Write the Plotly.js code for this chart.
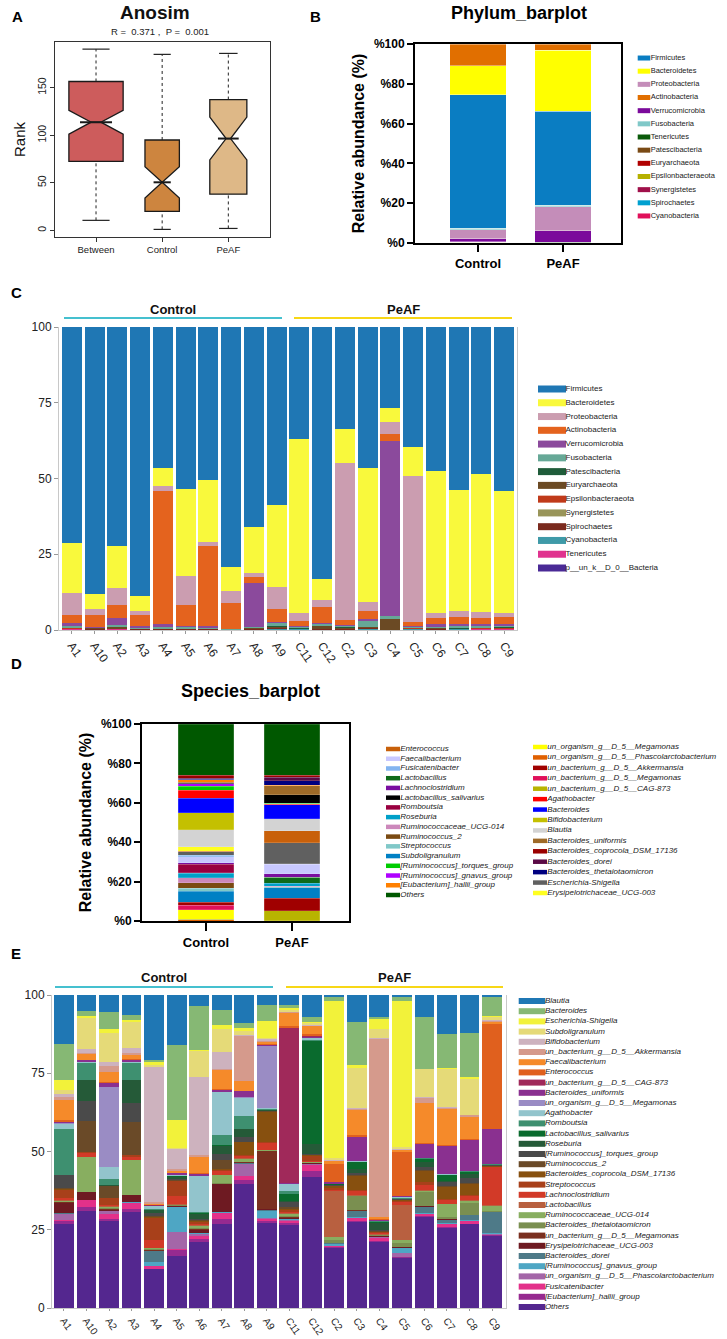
<!DOCTYPE html>
<html><head><meta charset="utf-8">
<script src="https://cdn.plot.ly/plotly-3.0.1.min.js"></script>
<style>html,body{margin:0;padding:0;background:#fff}#chart{width:727px;height:1339px}</style>
</head><body><div id="chart"></div>
<script>
// ---------------- DATA ----------------
// Panel A: ANOSIM box statistics
const anosimGroups = ['Between', 'Control', 'PeAF'];
const anosimQ1 = [72.6, 20, 38];
const anosimMedian = [113.7, 50.5, 96.5];
const anosimQ3 = [156.5, 95, 137.5];
const anosimLower = [10.5, 1, 2];
const anosimUpper = [190.5, 185, 186];
const anosimNotch = [12.5, 16.5, 22.5];
const anosimColors = ['#CD5C5C', '#CD853F', '#DEB887'];

// Panel B: phylum barplot (group means)
const bGroups = ['Control', 'PeAF'];
const bLegendNames = ['Firmicutes','Bacteroidetes','Proteobacteria','Actinobacteria','Verrucomicrobia','Fusobacteria','Tenericutes','Patescibacteria','Euryarchaeota','Epsilonbacteraeota','Synergistetes','Spirochaetes','Cyanobacteria'];
const bLegendColors = ['#0A7DC2','#FFFF00','#C48DB9','#E16F00','#7B0A9B','#80C8C8','#0A5A0A','#7A4A15','#B00000','#B5B000','#A0104A','#00A0D0','#E0105A'];
const bStack = ['Cyanobacteria','Spirochaetes','Synergistetes','Epsilonbacteraeota','Euryarchaeota','Patescibacteria','Tenericutes','Verrucomicrobia','Proteobacteria','Fusobacteria','Firmicutes','Bacteroidetes','Actinobacteria'];
const bControl = [0.05, 0.1, 0.05, 0.1, 0.2, 0.1, 0.1, 1.5, 4.5, 0.8, 67.0, 14.6, 10.9];
const bPeAF    = [0.02, 0.05, 0.03, 0.05, 0.05, 0.05, 0.05, 5.9, 11.9, 0.8, 47.3, 30.6, 3.2];

// Panel C: phylum per sample
const samples = ['A1','A10','A2','A3','A4','A5','A6','A7','A8','A9','C11','C12','C2','C3','C4','C5','C6','C7','C8','C9'];
const cPhyla = ['Firmicutes','Bacteroidetes','Proteobacteria','Actinobacteria','Verrucomicrobia','Fusobacteria','Patescibacteria','Euryarchaeota','Epsilonbacteraeota','Synergistetes','Spirochaetes','Cyanobacteria','Tenericutes','p__un_k__D_0__Bacteria'];
const cColors = ['#1F77B4','#F9F93C','#CB9DB0','#E4631E','#8B4A9C','#66A897','#1F5C3A','#6B4A24','#C03A1A','#99955A','#7A2A1E','#3F9AA8','#E0338F','#4A2A96'];
const cFirmicutes      = [71.6, 88.1, 72.2, 88.8, 46.6, 53.5, 50.4, 79.3, 66.1, 58.8, 37.0, 83.1, 33.6, 46.6, 26.7, 39.6, 47.6, 54.0, 48.7, 54.1];
const cBacteroidetes   = [16.5, 5.1, 14.0, 5.1, 6.0, 28.9, 20.7, 7.8, 15.2, 27.2, 57.5, 7.0, 11.3, 44.4, 4.7, 9.7, 46.9, 39.9, 45.5, 40.4];
const cProteobacteria  = [7.2, 1.8, 5.5, 1.4, 1.7, 9.6, 1.1, 4.1, 1.3, 7.4, 2.4, 2.4, 52.0, 3.1, 4.0, 48.3, 1.6, 1.9, 1.9, 1.4];
const cActinobacteria  = [2.5, 4.2, 4.4, 3.6, 44.0, 6.7, 26.7, 8.6, 1.8, 4.1, 1.8, 5.3, 1.7, 2.6, 2.2, 1.3, 1.9, 2.2, 2.2, 2.2];
const cVerrucomicrobia = [1.1, 0.1, 2.2, 0.5, 0.9, 0.5, 0.4, 0.05, 14.7, 0.3, 0.2, 0.3, 0.2, 0.55, 58.0, 0.1, 1.0, 0.7, 0.6, 0.6];
const cFusobacteria    = [0.6, 0.2, 0.8, 0.3, 0.5, 0.5, 0.4, 0.1, 0.3, 1.1, 0.5, 0.7, 0.5, 1.95, 0.8, 0.5, 0.3, 0.8, 0.4, 0.5];
const cPatescibacteria = [0.1, 0.05, 0.1, 0.1, 0.05, 0.05, 0.05, 0.02, 0.1, 0.2, 0.1, 0.1, 0.3, 0.2, 0.05, 0.05, 0.1, 0.2, 0.2, 0.2];
const cEuryarchaeota   = [0.1, 0.3, 0.4, 0.1, 0.1, 0.1, 0.1, 0.02, 0.3, 0.4, 0.1, 0.9, 0.3, 0.3, 3.5, 0.05, 0.4, 0.1, 0.1, 0.1];
const cEpsilon         = [0.1, 0.05, 0.05, 0.05, 0.05, 0.05, 0.05, 0.02, 0.05, 0.1, 0.05, 0.05, 0.05, 0.05, 0.02, 0.05, 0.05, 0.05, 0.05, 0.1];
const cSynergistetes   = [0.02, 0.02, 0.02, 0.02, 0.02, 0.02, 0.02, 0.01, 0.02, 0.05, 0.02, 0.02, 0.02, 0.02, 0.01, 0.02, 0.02, 0.02, 0.02, 0.02];
const cSpirochaetes    = [0.1, 0.05, 0.1, 0.05, 0.05, 0.05, 0.05, 0.02, 0.05, 0.4, 0.05, 0.05, 0.05, 0.3, 0.02, 0.05, 0.05, 0.05, 0.05, 0.05];
const cCyanobacteria   = [0.1, 0.05, 0.1, 0.05, 0.05, 0.05, 0.05, 0.02, 0.05, 0.1, 0.1, 0.05, 0.05, 0.1, 0.02, 0.3, 0.05, 0.05, 0.1, 0.1];
const cTenericutes     = [0.1, 0.05, 0.1, 0.05, 0.05, 0.05, 0.05, 0.02, 0.05, 0.05, 0.1, 0.05, 0.05, 0.05, 0.02, 0.05, 0.05, 0.1, 0.2, 0.2];
const cUnBacteria      = [0.1, 0.05, 0.1, 0.05, 0.05, 0.05, 0.05, 0.02, 0.05, 0.05, 0.05, 0.05, 0.05, 0.05, 0.02, 0.05, 0.05, 0.05, 0.1, 0.1];
const cValues = [cFirmicutes, cBacteroidetes, cProteobacteria, cActinobacteria, cVerrucomicrobia, cFusobacteria, cPatescibacteria, cEuryarchaeota, cEpsilon, cSynergistetes, cSpirochaetes, cCyanobacteria, cTenericutes, cUnBacteria];

// Panel D: species barplot (group means)
const dLegend1 = ['Enterococcus','Faecalibacterium','Fusicatenibacter','Lactobacillus','Lachnoclostridium','Lactobacillus_salivarius','Romboutsia','Roseburia','Ruminococcaceae_UCG-014','Ruminococcus_2','Streptococcus','Subdoligranulum','[Ruminococcus]_torques_group','[Ruminococcus]_gnavus_group','[Eubacterium]_hallii_group','Others'];
const dColors1 = ['#C8600A','#C8C8FF','#82B4F0','#0E6A1A','#7A0EA0','#000000','#990040','#00A0C8','#CC88BB','#7A4A12','#80C8C8','#0080C4','#00CC00','#B000FF','#FF8000','#005800'];
const dLegend2 = ['un_organism_g__D_5__Megamonas','un_organism_g__D_5__Phascolarctobacterium','un_bacterium_g__D_5__Akkermansia','un_bacterium_g__D_5__Megamonas','un_bacterium_g__D_5__CAG-873','Agathobacter','Bacteroides','Bifidobacterium','Blautia','Bacteroides_uniformis','Bacteroides_coprocola_DSM_17136','Bacteroides_dorei','Bacteroides_thetaiotaomicron','Escherichia-Shigella','Erysipelotrichaceae_UCG-003'];
const dColors2 = ['#FFFF00','#E06000','#A00000','#E0105A','#B8B400','#FF0000','#0000FF','#C4C000','#D3D3D3','#9E6A28','#9A0000','#5A0A46','#000080','#606060','#FFFF20'];
const dStack = ['un_organism_g__D_5__Phascolarctobacterium','un_bacterium_g__D_5__CAG-873','un_organism_g__D_5__Megamonas','un_bacterium_g__D_5__Megamonas','un_bacterium_g__D_5__Akkermansia','Subdoligranulum','Streptococcus','Ruminococcus_2','Ruminococcaceae_UCG-014','Roseburia','Lactobacillus','Romboutsia','Lachnoclostridium','Faecalibacterium','Fusicatenibacter','Escherichia-Shigella','Enterococcus','Erysipelotrichaceae_UCG-003','Blautia','Bifidobacterium','Bacteroides','Agathobacter','[Ruminococcus]_torques_group','[Ruminococcus]_gnavus_group','Lactobacillus_salivarius','Bacteroides_uniformis','[Eubacterium]_hallii_group','Bacteroides_thetaiotaomicron','Bacteroides_dorei','Bacteroides_coprocola_DSM_17136','Others'];
const dControl = [0.6, 0.2, 4.9, 2.2, 1.7, 5.4, 1.7, 2.7, 2.5, 2.4, 0.2, 4.4, 0.7, 3.0, 0.8, 1.7, 0.3, 2.2, 8.8, 8.5, 7.4, 4.0, 2.2, 1.2, 0.3, 0.4, 1.2, 0.3, 0.5, 1.7, 25.9];
const dPeAF    = [0.1, 5.0, 0.1, 0.1, 6.2, 5.4, 0.5, 0.1, 0.1, 1.5, 3.1, 0.1, 1.6, 5.0, 0.2, 10.7, 5.9, 0.1, 6.0, 0.2, 6.9, 0.3, 0.5, 0.2, 4.1, 4.7, 0.1, 2.4, 1.7, 1.2, 25.9];

// Panel E: genus per sample (legend order, top of stack first)
const eTaxa = ['Blautia','Bacteroides','Escherichia-Shigella','Subdoligranulum','Bifidobacterium','un_bacterium_g__D_5__Akkermansia','Faecalibacterium','Enterococcus','un_bacterium_g__D_5__CAG-873','Bacteroides_uniformis','un_organism_g__D_5__Megamonas','Agathobacter','Romboutsia','Lactobacillus_salivarius','Roseburia','[Ruminococcus]_torques_group','Ruminococcus_2','Bacteroides_coprocola_DSM_17136','Streptococcus','Lachnoclostridium','Lactobacillus','Ruminococcaceae_UCG-014','Bacteroides_thetaiotaomicron','un_bacterium_g__D_5__Megamonas','Erysipelotrichaceae_UCG-003','Bacteroides_dorei','[Ruminococcus]_gnavus_group','un_organism_g__D_5__Phascolarctobacterium','Fusicatenibacter','[Eubacterium]_hallii_group','Others'];
const eColors = ['#1F77B4','#86B874','#F2F23A','#E5DA78','#CDB2BE','#D59A8C','#F58A2A','#E0601E','#A0295A','#8A3090','#9A8CC4','#92C4CC','#3E9070','#0A6B2E','#255A38','#4A4A4A','#6A4A28','#87500F','#A8401A','#D23A28','#B86040','#88AE60','#7A8F50','#7A3020','#6E1A22','#4E7A88','#4EA6C4','#A466A8','#E3318A','#962A90','#54278F'];
// per sample values, stack order from bottom (Others) to top (Blautia)
const eA1  = [27.1,0.9,0.6,1.7,0.1,0.2,3.3,0.3,0.2,0.2,0.4,0.6,2.7,0.2,0.2,4.2,0.2,0.1,14.7,1.5,0.4,0.3,0.1,0.5,6.5,1.1,1.0,1.1,3.4,11.7,15.8];
const eA10 = [31.2,1.4,2.1,0,0.2,0,2.3,0,0,11.5,0,1.2,0.4,0,10.0,6.4,6.8,0,5.3,0.3,0,0.7,0,0.2,1.8,0.3,1.3,10.0,0.6,1.8,5.0];
const eA2  = [28.2,0.8,1.4,1.0,0.1,0.1,0.2,0.2,0.3,0.6,0.2,0.2,2.3,0.2,3.7,0.2,0.2,0.1,1.9,3.8,26.1,1.3,0,0.1,3.2,2.1,1.3,9.3,1.4,5.5,5.5];
const eA3  = [30.7,1.0,2.0,0,0.2,0,2.3,0,0,11.1,0,1.2,0.4,0,10.6,6.3,7.4,0,5.3,0.2,0,0.9,0,0.2,1.4,0.4,1.6,8.4,0.6,1.8,6.3];
const eA4  = [12.5,0.2,0.8,0.1,1.3,3.5,0.2,0.2,0.3,0.2,0.2,2.6,7.2,0.3,0.3,1.0,0.8,0.2,0.2,0.9,0.1,0.1,0.1,0.2,0.2,0.8,43.8,0.6,1.0,0.4,21.2];
const eA5  = [16.9,1.9,0.3,5.8,8.0,0.2,0.1,0.2,0.1,0.2,0.2,2.6,4.8,0.2,0.2,0.3,0.8,0.1,0.2,0.2,0.2,0.5,0,0.2,0.5,0.8,6.4,0.3,9.2,24.4,16.3];
const eA6  = [21.5,0.8,1.2,0.6,0.2,0.2,1.0,0.3,0.3,0.5,0.3,0.3,0.7,0.3,0.5,0.3,1.5,0.3,0.5,11.5,0.1,0.7,0,0.2,5.3,0.5,25.4,8.5,0.2,14.3,3.7];
const eA7  = [27.3,1.6,1.9,0.2,0.1,0.1,9.0,0.1,0.2,2.6,0.2,1.3,0.2,0.3,3.0,2.1,2.6,0.1,3.4,13.9,0,0.7,0,0.2,6.1,0.3,5.8,7.4,1.3,4.9,4.8];
const eA8  = [40.2,1.4,1.3,3.8,0.1,0.1,0.1,0.2,0.2,1.0,0.2,0.7,0.2,4.2,0.2,1.6,2.6,0.1,4.0,6.0,0.1,2.1,0,0.1,3.2,14.5,0.3,1.2,1.0,1.8,9.0];
const eA9  = [28.0,0.5,0.8,0.2,2.4,0.2,0.2,19.0,0.2,0.2,0.2,2.1,0.2,10.0,0.2,0.2,0.3,0.1,0.2,0.2,20.4,0.4,0,0.2,0.8,0.3,0.5,0.5,5.5,5.3,3.2];
const eC11 = [27.3,0.8,0.6,0.3,0.2,0.2,0.3,0.3,0.4,0.4,0.4,0.5,0.5,0.5,0.5,1.6,0.3,2.4,1.0,2.4,0,0.2,51.0,0.5,4.4,0.2,0.2,0.5,0.8,1.0,3.2];
const eC12 = [42.9,1.9,2.1,0.2,0.1,0.1,0.1,0.1,0.1,0.1,0.2,0.4,1.6,0.1,0.1,0.3,3.2,33.9,0.2,0.7,0,0.2,0.5,0.5,2.6,0.2,0.2,0.7,0.2,1.9,7.1];
const eC2  = [19.7,0.2,0.2,0.1,0.7,0.2,0.1,0.1,1.0,0.9,14.8,0.6,0.5,0.5,0.2,0.2,0.2,0.1,0.1,0.1,0,0.7,0,5.8,0.8,0.2,0.2,0.7,51.0,1.4,0.7];
const eC3  = [28.4,0.3,0.7,0.2,0.2,1.9,0.2,0.2,4.6,0.2,0.2,1.2,0.6,4.5,0.4,0.6,1.4,2.1,0.2,0.2,0.1,7.8,0.1,0.5,8.3,0.4,0.3,13.0,1.0,14.1,8.9];
const eC4  = [21.5,0.5,1.0,0.1,0.1,0.1,0.2,0.1,0.2,0.2,0.2,0.3,0.3,0.2,0.2,0.3,2.3,0.3,0.2,0.1,0,0.2,0.1,0.5,0.6,58.2,0.3,3.0,3.2,0.7,7.1];
const eC5  = [16.4,0.2,0.2,1.1,1.7,0.1,0.1,0.1,1.5,0.8,11.6,1.0,0.3,0.2,0.1,0.1,0.1,0.1,0.3,0.3,0,0.2,0,14.5,0.5,0.2,0.2,0.7,47.7,1.5,0.5];
const eC6  = [29.7,0.2,0.7,0.1,0.2,2.1,0.2,0.2,4.3,0.5,0.3,1.6,1.0,3.5,0.3,1.1,1.6,1.0,0.2,0.2,0,4.4,0,0.3,13.3,1.5,0.3,9.0,0.3,16.7,7.3];
const eC7  = [26.2,0.3,1.0,0.1,0.2,1.1,0.1,0.1,0.5,4.3,0.2,1.2,0.4,3.9,0.3,1.4,0.3,1.8,0.2,0.1,0,9.3,0,0.3,11.6,0.5,0.2,12.5,0.5,11.0,12.7];
const eC8  = [27.1,0.3,0.7,0.1,0.2,1.6,0.1,0.1,4.0,0.6,0.2,1.2,0.4,3.7,0.3,1.6,1.4,0.5,0.2,0.1,0,10.2,0,0.3,7.1,0.5,0.2,11.6,0.5,14.3,12.4];
const eC9  = [23.6,0.2,0.2,0.1,0.5,6.7,0.1,0.1,0.3,1.5,0.2,12.4,0.3,0.2,0.1,0.1,0.1,0.1,0.1,0.1,0,11.6,0,34.0,0.9,0.2,0.2,1.0,0.6,6.2,0.5];
const eSamples = [eA1,eA10,eA2,eA3,eA4,eA5,eA6,eA7,eA8,eA9,eC11,eC12,eC2,eC3,eC4,eC5,eC6,eC7,eC8,eC9];

// ---------------- BUILD ----------------
const W = 727, H = 1339;
const px = v => v / W, py = v => 1 - v / H;
const F = 'Liberation Sans, Arial, Helvetica, sans-serif';
const traces = [];

// Panel A
const boxW = [0.82, 0.52, 0.56];
const notchW = [0.41, 0.5, 0.44];
anosimGroups.forEach((g, i) => {
  const p = i + 1, c = boxW[i] / 4;
  traces.push({type:'scatter', mode:'lines', xaxis:'x', yaxis:'y',
    x:[p,p,null,p,p], y:[anosimQ3[i],anosimUpper[i],null,anosimLower[i],anosimQ1[i]],
    line:{color:'#222', width:1, dash:'dot'}, hoverinfo:'skip'});
  traces.push({type:'scatter', mode:'lines', xaxis:'x', yaxis:'y',
    x:[p-c,p+c,null,p-c,p+c], y:[anosimUpper[i],anosimUpper[i],null,anosimLower[i],anosimLower[i]],
    line:{color:'#222', width:1.2}, hoverinfo:'skip'});
  traces.push({type:'box', xaxis:'x', yaxis:'y', name:g, x:[p],
    q1:[anosimQ1[i]], median:[anosimMedian[i]], q3:[anosimQ3[i]],
    lowerfence:[anosimQ1[i]], upperfence:[anosimQ3[i]], notchspan:[anosimNotch[i]],
    notched:true, notchwidth:notchW[i], width:boxW[i], whiskerwidth:0,
    fillcolor:anosimColors[i], line:{color:'#1a1a1a', width:1.3}, hoverinfo:'skip'});
  const m = boxW[i] / 2 * (1 - notchW[i]);
  traces.push({type:'scatter', mode:'lines', xaxis:'x', yaxis:'y',
    x:[p-m,p+m], y:[anosimMedian[i],anosimMedian[i]], line:{color:'#1a1a1a', width:2}, hoverinfo:'skip'});
});

// Panel B
const bColorOf = {}; bLegendNames.forEach((n,i)=>bColorOf[n]=bLegendColors[i]);
bStack.forEach((n,i)=>{
  traces.push({type:'bar', xaxis:'x2', yaxis:'y2', name:n, x:bGroups, y:[bControl[i], bPeAF[i]],
    width:0.66, marker:{color:bColorOf[n], line:{color:'rgba(255,255,255,0.55)', width:0.7}}, hoverinfo:'skip'});
});

// Panel C
for (let k = cPhyla.length - 1; k >= 0; k--) {
  traces.push({type:'bar', xaxis:'x4', yaxis:'y4', name:cPhyla[k], x:samples, y:cValues[k],
    width:0.88, marker:{color:cColors[k], line:{width:0}}, hoverinfo:'skip'});
}

// Panel D
const dColorOf = {};
dLegend1.forEach((n,i)=>dColorOf[n]=dColors1[i]);
dLegend2.forEach((n,i)=>dColorOf[n]=dColors2[i]);
dStack.forEach((n,i)=>{
  traces.push({type:'bar', xaxis:'x6', yaxis:'y6', name:n, x:bGroups, y:[dControl[i], dPeAF[i]],
    width:0.64, marker:{color:dColorOf[n], line:{color:'rgba(255,255,255,0.4)', width:0.4}}, hoverinfo:'skip'});
});

// Panel E
const nE = eTaxa.length;
for (let j = 0; j < nE; j++) {
  const k = nE - 1 - j;
  traces.push({type:'bar', xaxis:'x9', yaxis:'y9', name:eTaxa[k], x:samples, y:eSamples.map(s=>s[j]),
    width:0.88, marker:{color:eColors[k], line:{width:0}}, hoverinfo:'skip'});
}

// Legends (hidden helper axes)
function legendTrace(names, colors, xa, ya, size, lw, fs, italic) {
  return {type:'scatter', mode:'markers+text', xaxis:xa, yaxis:ya,
    x:names.map(()=>0), y:names.map((_,i)=>i), text:names, textposition:'middle right',
    textfont:{family:F, size:fs, color:'#1a1a1a', style: italic ? 'italic' : 'normal'},
    marker:{symbol:'line-ew', size:size, color:colors, line:{color:colors, width:lw}},
    cliponaxis:false, hoverinfo:'skip'};
}
traces.push(legendTrace(bLegendNames, bLegendColors, 'x3', 'y3', 9, 5, 7.5, false));
traces.push(legendTrace(cPhyla, cColors, 'x5', 'y5', 20, 7, 8, false));
traces.push(legendTrace(dLegend1, dColors1, 'x7', 'y7', 10, 4.5, 8, true));
traces.push(legendTrace(dLegend2, dColors2, 'x8', 'y8', 10, 4.5, 8, true));
traces.push(legendTrace(eTaxa, eColors, 'x10', 'y10', 19, 6, 8, true));

const hid = (domain, range, anchor) => ({domain, range, anchor, visible:false, fixedrange:true, showgrid:false, zeroline:false});
const pctTicks = {tickvals:[0,20,40,60,80,100], ticktext:['%0','%20','%40','%60','%80','%100']};
const bold = (s, c='#000') => ({family:F, size:s, weight:'bold', color:c});

const layout = {
  width:W, height:H, margin:{l:0,r:0,t:0,b:0}, paper_bgcolor:'#fff', plot_bgcolor:'rgba(0,0,0,0)',
  showlegend:false, barmode:'stack', barnorm:'percent', boxmode:'overlay',
  font:{family:F, color:'#222'},
  // A
  xaxis:{domain:[px(55),px(270)], anchor:'y', range:[0.38,3.63], tickvals:[1,2,3], ticktext:anosimGroups,
    ticks:'outside', ticklen:4, tickcolor:'#333', showline:true, mirror:true, linecolor:'#333', linewidth:1,
    tickfont:{size:9.5, color:'#222'}, showgrid:false, zeroline:false},
  yaxis:{domain:[py(237),py(42)], anchor:'x', range:[-7,198], tickvals:[0,50,100,150], tickangle:-90,
    ticks:'outside', ticklen:4, tickcolor:'#333', showline:true, mirror:true, linecolor:'#333', linewidth:1,
    tickfont:{size:10.5, color:'#222'}, showgrid:false, zeroline:false,
    title:{text:'Rank', font:{size:15, color:'#111'}, standoff:6}},
  // B
  xaxis2:{domain:[px(415),px(621)], anchor:'y2', type:'category', range:[-0.741,1.682],
    ticks:'outside', ticklen:7, tickwidth:2, tickcolor:'#000', showline:true, mirror:true, linecolor:'#000', linewidth:2,
    tickfont:bold(13), showgrid:false, zeroline:false},
  yaxis2:Object.assign({domain:[py(243),py(44)], anchor:'x2', range:[0,100],
    ticks:'outside', ticklen:6, tickwidth:2, tickcolor:'#000', showline:true, mirror:true, linecolor:'#000', linewidth:2,
    tickfont:bold(12), showgrid:false, zeroline:false,
    title:{text:'Relative abundance (%)', font:bold(16), standoff:5}}, pctTicks),
  xaxis3:hid([px(630),1], [-14,83], 'y3'),
  yaxis3:hid([py(224),py(50)], [12.61,-0.61], 'x3'),
  // C
  xaxis4:{domain:[px(59),px(517)], anchor:'y4', type:'category', categoryorder:'array', categoryarray:samples,
    range:[-0.57,19.57], tickangle:55, ticks:'outside', ticklen:3, tickcolor:'#999',
    showline:true, linecolor:'#C8C8C8', linewidth:1, tickfont:{size:12, color:'#222'}, showgrid:false, zeroline:false},
  yaxis4:{domain:[py(630),py(327)], anchor:'x4', range:[0,100], tickvals:[0,25,50,75,100],
    ticks:'outside', ticklen:4, tickcolor:'#999', showline:true, mirror:true, linecolor:'#C8C8C8', linewidth:1,
    tickfont:{size:12, color:'#222'}, showgrid:false, zeroline:false},
  xaxis5:hid([px(540),1], [-12,175], 'y5'),
  yaxis5:hid([py(577),py(380)], [13.654,-0.654], 'x5'),
  // D
  xaxis6:{domain:[px(142),px(349)], anchor:'y6', type:'category', range:[-0.744,1.663],
    ticks:'outside', ticklen:8, tickwidth:2.5, tickcolor:'#000', showline:true, mirror:true, linecolor:'#000', linewidth:2,
    tickfont:bold(13), showgrid:false, zeroline:false},
  yaxis6:Object.assign({domain:[py(921),py(724)], anchor:'x6', range:[0,100],
    ticks:'outside', ticklen:6, tickwidth:2, tickcolor:'#000', showline:true, mirror:true, linecolor:'#000', linewidth:2,
    tickfont:bold(12), showgrid:false, zeroline:false,
    title:{text:'Relative abundance (%)', font:bold(16), standoff:5}}, pctTicks),
  xaxis7:hid([px(380),px(530)], [-13,137], 'y7'),
  yaxis7:hid([py(904),py(740)], [15.925,-0.925], 'x7'),
  xaxis8:hid([px(530),1], [-10,187], 'y8'),
  yaxis8:hid([py(902),py(738)], [14.863,-0.863], 'x8'),
  // E
  xaxis9:{domain:[px(52),px(506)], anchor:'y9', type:'category', categoryorder:'array', categoryarray:samples,
    range:[-0.53,19.62], tickangle:55, ticks:'outside', ticklen:2, tickcolor:'#999',
    showline:true, linecolor:'#C8C8C8', linewidth:1, tickfont:{size:10, color:'#222'}, showgrid:false, zeroline:false},
  yaxis9:{domain:[py(1308),py(995)], anchor:'x9', range:[0,100], tickvals:[0,25,50,75,100],
    ticks:'outside', ticklen:4, tickcolor:'#999', showline:true, mirror:true, linecolor:'#C8C8C8', linewidth:1,
    tickfont:{size:12, color:'#222'}, showgrid:false, zeroline:false},
  xaxis10:hid([px(515),1], [-17,195], 'y10'),
  yaxis10:hid([py(1316),py(992)], [30.882,-0.882], 'x10'),
  annotations:[],
  shapes:[]
};

const note = (x, y, text, font) => layout.annotations.push({xref:'paper', yref:'paper', x:px(x), y:py(y), text,
  showarrow:false, xanchor:'center', yanchor:'middle', font});
note(17, 17, 'A', bold(15));
note(155, 13, 'Anosim', bold(19, '#111'));
note(160, 32, 'R =  0.371 ,  P =  0.001', {family:F, size:9.5, color:'#222'});
note(315, 17, 'B', bold(15));
note(519, 13, 'Phylum_barplot', bold(18));
note(16, 292, 'C', bold(15));
note(173, 309, 'Control', bold(13, '#111'));
note(403, 309, 'PeAF', bold(13, '#111'));
note(16, 663, 'D', bold(15));
note(250, 691, 'Species_barplot', bold(18));
note(16, 953, 'E', bold(15));
note(164, 978, 'Control', bold(13, '#111'));
note(394, 978, 'PeAF', bold(13, '#111'));

const hline = (x0, x1, y, color) => layout.shapes.push({type:'line', xref:'paper', yref:'paper',
  x0:px(x0), x1:px(x1), y0:py(y), y1:py(y), line:{color, width:2}});
hline(64, 282, 318, '#45C0CF');
hline(294, 512, 318, '#F7D716');
hline(55, 273, 987, '#45C0CF');
hline(286, 503, 987, '#F7D716');

Plotly.newPlot('chart', traces, layout, {staticPlot:true, displayModeBar:false});
</script></body></html>
